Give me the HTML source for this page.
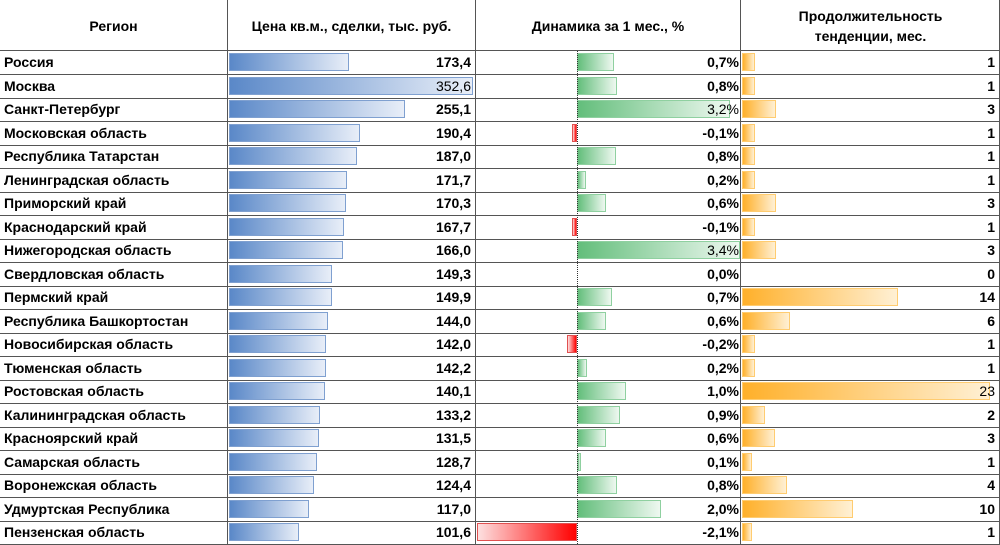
<!DOCTYPE html>
<html><head><meta charset="utf-8"><style>
body{margin:0;width:1000px;height:544px;background:#fff;overflow:hidden;font-family:"Liberation Sans",sans-serif;font-weight:bold;font-size:14px;color:#000}
.w{position:relative;width:1000px;height:544px}
.r{position:absolute;left:0;width:1000px;height:23px;border-bottom:1px solid #555}
.c{position:absolute;top:0;height:23px;line-height:23px;white-space:nowrap}
.n{left:4px}
.v{text-align:right}
.p{left:229px;width:242px}
.d{left:477px;width:262px}
.t{left:742px;width:253px}
.b{position:absolute;top:2px;height:18px;box-sizing:border-box}
.bb{background:linear-gradient(90deg,#5a88c8,#e8eef8);border:1px solid #7fa0d0}
.bg{background:linear-gradient(90deg,#63be7b,#eef8f0);border:1px solid #8fd0a0}
.br{background:linear-gradient(90deg,#fde0e0,#f00);border:1px solid #e05050}
.bo{background:linear-gradient(90deg,#ffb02a,#fff0d4);border:1px solid #ffcc70}
.vl{position:absolute;top:0;bottom:0;width:1px;background:#555}
.h{position:absolute;top:0;height:51px;display:flex;align-items:center;justify-content:center;text-align:center;font-size:14px;line-height:20px}
.z{position:absolute;left:577px;top:51px;height:493px;border-left:1px dotted #333}
</style></head><body><div class="w">
<div class="h" style="left:0;width:227px">Регион</div>
<div class="h" style="left:228px;width:247px">Цена кв.м., сделки, тыс. руб.</div>
<div class="h" style="left:476px;width:264px">Динамика за 1 мес., %</div>
<div class="h" style="left:741px;width:259px">Продолжительность<br>тенденции, мес.</div>
<div style="position:absolute;left:0;top:50px;width:1000px;height:1px;background:#555"></div>

<div class="r" style="top:51px"><div class="c n">Россия</div><div class="b bb" style="left:229px;width:120px"></div><div class="c v p">173,4</div><div class="b bg" style="left:577px;width:37px"></div><div class="c v d">0,7%</div><div class="b bo" style="left:742px;width:13px"></div><div class="c v t">1</div></div>
<div class="r" style="top:74.5px"><div class="c n">Москва</div><div class="b bb" style="left:229px;width:244px"></div><div class="c v p" style="font-weight:normal">352,6</div><div class="b bg" style="left:577px;width:40px"></div><div class="c v d">0,8%</div><div class="b bo" style="left:742px;width:13px"></div><div class="c v t">1</div></div>
<div class="r" style="top:98px"><div class="c n">Санкт-Петербург</div><div class="b bb" style="left:229px;width:176px"></div><div class="c v p">255,1</div><div class="b bg" style="left:577px;width:153px"></div><div class="c v d" style="font-weight:normal">3,2%</div><div class="b bo" style="left:742px;width:34px"></div><div class="c v t">3</div></div>
<div class="r" style="top:121.5px"><div class="c n">Московская область</div><div class="b bb" style="left:229px;width:131px"></div><div class="c v p">190,4</div><div class="b br" style="left:572px;width:5px"></div><div class="c v d">-0,1%</div><div class="b bo" style="left:742px;width:13px"></div><div class="c v t">1</div></div>
<div class="r" style="top:145px"><div class="c n">Республика Татарстан</div><div class="b bb" style="left:229px;width:128px"></div><div class="c v p">187,0</div><div class="b bg" style="left:577px;width:39px"></div><div class="c v d">0,8%</div><div class="b bo" style="left:742px;width:13px"></div><div class="c v t">1</div></div>
<div class="r" style="top:168.5px"><div class="c n">Ленинградская область</div><div class="b bb" style="left:229px;width:118px"></div><div class="c v p">171,7</div><div class="b bg" style="left:577px;width:9px"></div><div class="c v d">0,2%</div><div class="b bo" style="left:742px;width:13px"></div><div class="c v t">1</div></div>
<div class="r" style="top:192px"><div class="c n">Приморский край</div><div class="b bb" style="left:229px;width:117px"></div><div class="c v p">170,3</div><div class="b bg" style="left:577px;width:29px"></div><div class="c v d">0,6%</div><div class="b bo" style="left:742px;width:34px"></div><div class="c v t">3</div></div>
<div class="r" style="top:215.5px"><div class="c n">Краснодарский край</div><div class="b bb" style="left:229px;width:115px"></div><div class="c v p">167,7</div><div class="b br" style="left:572px;width:5px"></div><div class="c v d">-0,1%</div><div class="b bo" style="left:742px;width:13px"></div><div class="c v t">1</div></div>
<div class="r" style="top:239px"><div class="c n">Нижегородская область</div><div class="b bb" style="left:229px;width:114px"></div><div class="c v p">166,0</div><div class="b bg" style="left:577px;width:163px"></div><div class="c v d" style="font-weight:normal">3,4%</div><div class="b bo" style="left:742px;width:34px"></div><div class="c v t">3</div></div>
<div class="r" style="top:262.5px"><div class="c n">Свердловская область</div><div class="b bb" style="left:229px;width:103px"></div><div class="c v p">149,3</div><div class="c v d">0,0%</div><div class="c v t">0</div></div>
<div class="r" style="top:286px"><div class="c n">Пермский край</div><div class="b bb" style="left:229px;width:103px"></div><div class="c v p">149,9</div><div class="b bg" style="left:577px;width:35px"></div><div class="c v d">0,7%</div><div class="b bo" style="left:742px;width:156px"></div><div class="c v t">14</div></div>
<div class="r" style="top:309.5px"><div class="c n">Республика Башкортостан</div><div class="b bb" style="left:229px;width:99px"></div><div class="c v p">144,0</div><div class="b bg" style="left:577px;width:29px"></div><div class="c v d">0,6%</div><div class="b bo" style="left:742px;width:48px"></div><div class="c v t">6</div></div>
<div class="r" style="top:333px"><div class="c n">Новосибирская область</div><div class="b bb" style="left:229px;width:97px"></div><div class="c v p">142,0</div><div class="b br" style="left:567px;width:10px"></div><div class="c v d">-0,2%</div><div class="b bo" style="left:742px;width:13px"></div><div class="c v t">1</div></div>
<div class="r" style="top:356.5px"><div class="c n">Тюменская область</div><div class="b bb" style="left:229px;width:97px"></div><div class="c v p">142,2</div><div class="b bg" style="left:577px;width:10px"></div><div class="c v d">0,2%</div><div class="b bo" style="left:742px;width:13px"></div><div class="c v t">1</div></div>
<div class="r" style="top:380px"><div class="c n">Ростовская область</div><div class="b bb" style="left:229px;width:96px"></div><div class="c v p">140,1</div><div class="b bg" style="left:577px;width:49px"></div><div class="c v d">1,0%</div><div class="b bo" style="left:742px;width:248px"></div><div class="c v t" style="font-weight:normal">23</div></div>
<div class="r" style="top:403.5px"><div class="c n">Калининградская область</div><div class="b bb" style="left:229px;width:91px"></div><div class="c v p">133,2</div><div class="b bg" style="left:577px;width:43px"></div><div class="c v d">0,9%</div><div class="b bo" style="left:742px;width:23px"></div><div class="c v t">2</div></div>
<div class="r" style="top:427px"><div class="c n">Красноярский край</div><div class="b bb" style="left:229px;width:90px"></div><div class="c v p">131,5</div><div class="b bg" style="left:577px;width:29px"></div><div class="c v d">0,6%</div><div class="b bo" style="left:742px;width:33px"></div><div class="c v t">3</div></div>
<div class="r" style="top:450.5px"><div class="c n">Самарская область</div><div class="b bb" style="left:229px;width:88px"></div><div class="c v p">128,7</div><div class="b bg" style="left:577px;width:4px"></div><div class="c v d">0,1%</div><div class="b bo" style="left:742px;width:10px"></div><div class="c v t">1</div></div>
<div class="r" style="top:474px"><div class="c n">Воронежская область</div><div class="b bb" style="left:229px;width:85px"></div><div class="c v p">124,4</div><div class="b bg" style="left:577px;width:40px"></div><div class="c v d">0,8%</div><div class="b bo" style="left:742px;width:45px"></div><div class="c v t">4</div></div>
<div class="r" style="top:497.5px"><div class="c n">Удмуртская Республика</div><div class="b bb" style="left:229px;width:80px"></div><div class="c v p">117,0</div><div class="b bg" style="left:577px;width:84px"></div><div class="c v d">2,0%</div><div class="b bo" style="left:742px;width:111px"></div><div class="c v t">10</div></div>
<div class="r" style="top:521px"><div class="c n">Пензенская область</div><div class="b bb" style="left:229px;width:70px"></div><div class="c v p">101,6</div><div class="b br" style="left:477px;width:100px"></div><div class="c v d">-2,1%</div><div class="b bo" style="left:742px;width:10px"></div><div class="c v t">1</div></div>

<div class="z"></div>
<div class="vl" style="left:227px"></div>
<div class="vl" style="left:475px"></div>
<div class="vl" style="left:740px"></div>
<div class="vl" style="left:999px"></div>
</div></body></html>
